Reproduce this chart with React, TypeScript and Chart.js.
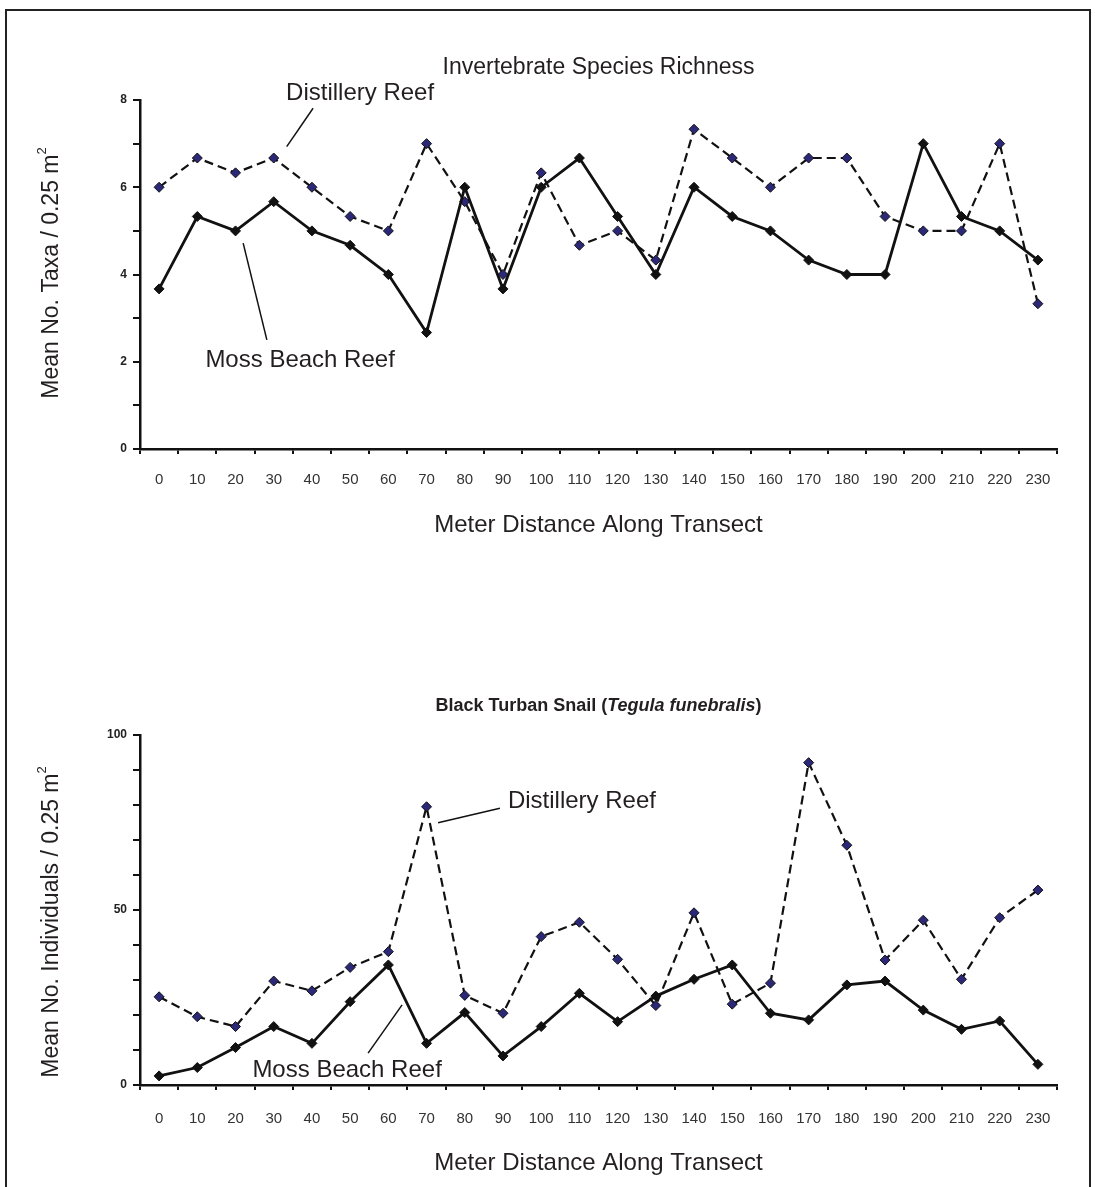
import React, { useEffect, useRef } from "react";
import { Chart, registerables } from "chart.js";

Chart.register(...registerables);

// ---------------- data ----------------
const distances = ["0", "10", "20", "30", "40", "50", "60", "70", "80", "90", "100", "110", "120", "130", "140", "150", "160", "170", "180", "190", "200", "210", "220", "230"];

const richnessDistillery = [6.0, 6.67, 6.33, 6.67, 6.0, 5.33, 5.0, 7.0, 5.67, 4.0, 6.33, 4.67, 5.0, 4.33, 7.33, 6.67, 6.0, 6.67, 6.67, 5.33, 5.0, 5.0, 7.0, 3.33];
const richnessMoss = [3.67, 5.33, 5.0, 5.67, 5.0, 4.67, 4.0, 2.67, 6.0, 3.67, 6.0, 6.67, 5.33, 4.0, 6.0, 5.33, 5.0, 4.33, 4.0, 4.0, 7.0, 5.33, 5.0, 4.33];

const snailDistillery = [25.2, 19.5, 16.7, 29.7, 26.9, 33.6, 38.1, 79.5, 25.6, 20.5, 42.4, 46.5, 35.9, 22.7, 49.2, 23.1, 29.1, 92.1, 68.5, 35.7, 47.1, 30.2, 47.8, 55.7];
const snailMoss = [2.6, 5.0, 10.7, 16.7, 11.9, 23.8, 34.3, 11.9, 20.7, 8.3, 16.7, 26.2, 18.1, 25.4, 30.2, 34.3, 20.5, 18.6, 28.6, 29.7, 21.4, 15.9, 18.3, 5.9];

const richnessTicks = [0, 2, 4, 6, 8];
const snailTicks = [0, 50, 100];

// ---------------- styles ----------------
const FONT = "'Liberation Sans', Arial, Helvetica, sans-serif";
const TEXT = "#231f20";
const LINE = "#111111";
const NAVY = "#2b2878";

type Run = { t: string; font: string; dy?: number };

function drawRuns(ctx: CanvasRenderingContext2D, runs: Run[], cx: number, cy: number, rot: number, align: "center" | "left" = "center") {
  ctx.save();
  ctx.translate(cx, cy);
  if (rot) ctx.rotate(rot);
  ctx.textBaseline = "middle";
  ctx.textAlign = "left";
  let total = 0;
  for (const r of runs) {
    ctx.font = r.font;
    total += ctx.measureText(r.t).width;
  }
  let x = align === "center" ? -total / 2 : 0;
  for (const r of runs) {
    ctx.font = r.font;
    ctx.fillText(r.t, x, r.dy || 0);
    x += ctx.measureText(r.t).width;
  }
  ctx.restore();
}

type Note = {
  text: string;
  at: [number, number]; // [category index, value]
  align: "center" | "left";
  from: [number, number];
  to: [number, number];
};

type Overlay = {
  title: Run[];
  titleY: number;
  xTitle: Run[];
  xTitleY: number;
  yTitle: Run[];
  yTitleX: number;
  yTitleY: number;
  notes: Note[];
};

function makeOverlay(cfg: Overlay) {
  return {
    id: "overlay",
    afterDraw(chart: any) {
      const { ctx, chartArea, scales } = chart;
      const xs = scales.x;
      const ys = scales.y;
      const cx = (chartArea.left + chartArea.right) / 2;
      ctx.save();
      ctx.fillStyle = TEXT;
      drawRuns(ctx, cfg.title, cx, cfg.titleY, 0);
      drawRuns(ctx, cfg.xTitle, cx, cfg.xTitleY, 0);
      drawRuns(ctx, cfg.yTitle, cfg.yTitleX, cfg.yTitleY, -Math.PI / 2);
      for (const n of cfg.notes) {
        ctx.strokeStyle = LINE;
        ctx.lineWidth = 1.5;
        ctx.beginPath();
        ctx.moveTo(xs.getPixelForValue(n.from[0]), ys.getPixelForValue(n.from[1]));
        ctx.lineTo(xs.getPixelForValue(n.to[0]), ys.getPixelForValue(n.to[1]));
        ctx.stroke();
        drawRuns(
          ctx,
          [{ t: n.text, font: `24px ${FONT}` }],
          xs.getPixelForValue(n.at[0]),
          ys.getPixelForValue(n.at[1]),
          0,
          n.align
        );
      }
      ctx.restore();
    },
  };
}

function buildConfig(
  distillery: number[],
  moss: number[],
  yMax: number,
  yStep: number,
  labelTicks: number[],
  padTop: number,
  xHeight: number,
  xLabelPad: number,
  overlay: Overlay
): any {
  return {
    type: "line",
    data: {
      labels: distances,
      datasets: [
        {
          label: "Moss Beach Reef",
          data: moss,
          borderColor: LINE,
          borderWidth: 2.8,
          pointStyle: "rectRot",
          pointRadius: 5,
          pointBackgroundColor: LINE,
          pointBorderColor: LINE,
          pointBorderWidth: 1,
          tension: 0,
          fill: false,
        },
        {
          label: "Distillery Reef",
          data: distillery,
          borderColor: LINE,
          borderWidth: 2.2,
          borderDash: [9, 5],
          pointStyle: "rectRot",
          pointRadius: 5,
          pointBackgroundColor: NAVY,
          pointBorderColor: LINE,
          pointBorderWidth: 1,
          tension: 0,
          fill: false,
        },
      ],
    },
    options: {
      responsive: false,
      animation: false,
      devicePixelRatio: 1,
      layout: { padding: { top: padTop, right: 38, left: 0, bottom: 0 } },
      plugins: {
        legend: { display: false },
        tooltip: { enabled: false },
        title: { display: false },
      },
      scales: {
        x: {
          type: "category",
          offset: true,
          afterFit: (s: any) => {
            s.height = xHeight;
          },
          grid: {
            offset: true,
            drawOnChartArea: false,
            drawTicks: true,
            tickLength: 5,
            color: LINE,
            lineWidth: 2,
          },
          border: { display: true, color: LINE, width: 2.5 },
          ticks: {
            autoSkip: false,
            maxRotation: 0,
            minRotation: 0,
            padding: xLabelPad,
            color: "#333333",
            font: { family: FONT, size: 15 },
          },
        },
        y: {
          min: 0,
          max: yMax,
          afterFit: (s: any) => {
            s.width = 140;
          },
          grid: {
            drawOnChartArea: false,
            drawTicks: true,
            tickLength: 7,
            color: LINE,
            lineWidth: 2,
          },
          border: { display: true, color: LINE, width: 2.5 },
          ticks: {
            stepSize: yStep,
            padding: 6,
            color: "#222222",
            font: { family: FONT, size: 12, weight: "bold" },
            callback: (v: any) => (labelTicks.includes(Number(v)) ? String(v) : ""),
          },
        },
      },
    },
    plugins: [makeOverlay(overlay)],
  };
}

function ChartCanvas({ config, width, height, top }: { config: any; width: number; height: number; top: number }) {
  const ref = useRef<HTMLCanvasElement | null>(null);
  useEffect(() => {
    if (!ref.current) return;
    const chart = new Chart(ref.current, config);
    return () => chart.destroy();
  }, [config]);
  return (
    <canvas
      ref={ref}
      width={width}
      height={height}
      style={{ position: "absolute", left: 0, top, width, height, display: "block" }}
    />
  );
}

const topConfig = buildConfig(
  richnessDistillery,
  richnessMoss,
  8,
  1,
  richnessTicks,
  100,
  600 - 449,
  17,
  {
    title: [{ t: "Invertebrate Species Richness", font: `23px ${FONT}` }],
    titleY: 68,
    xTitle: [{ t: "Meter Distance Along Transect", font: `24px ${FONT}` }],
    xTitleY: 525,
    yTitle: [
      { t: "Mean No. Taxa / 0.25 m", font: `23px ${FONT}` },
      { t: "2", font: `13px ${FONT}`, dy: -10 },
    ],
    yTitleX: 52,
    yTitleY: 273,
    notes: [
      { text: "Distillery Reef", at: [5.26, 8.16], align: "center", from: [3.34, 6.93], to: [4.03, 7.81] },
      { text: "Moss Beach Reef", at: [3.69, 2.04], align: "center", from: [2.2, 4.72], to: [2.82, 2.5] },
    ],
  }
);

const bottomConfig = buildConfig(
  snailDistillery,
  snailMoss,
  100,
  10,
  snailTicks,
  135,
  587 - 485,
  20,
  {
    title: [
      { t: "Black Turban Snail (", font: `bold 18px ${FONT}` },
      { t: "Tegula funebralis", font: `italic bold 18px ${FONT}` },
      { t: ")", font: `bold 18px ${FONT}` },
    ],
    titleY: 106,
    xTitle: [{ t: "Meter Distance Along Transect", font: `24px ${FONT}` }],
    xTitleY: 563,
    yTitle: [
      { t: "Mean No. Individuals / 0.25 m", font: `23px ${FONT}` },
      { t: "2", font: `13px ${FONT}`, dy: -10 },
    ],
    yTitleX: 52,
    yTitleY: 322,
    notes: [
      { text: "Distillery Reef", at: [9.13, 80.9], align: "left", from: [7.3, 74.9], to: [8.92, 79.1] },
      { text: "Moss Beach Reef", at: [4.92, 4.3], align: "center", from: [5.47, 9.1], to: [6.36, 22.9] },
    ],
  }
);

export default function App() {
  return (
    <div
      style={{
        position: "absolute",
        left: 0,
        top: 0,
        width: 1095,
        height: 1187,
        overflow: "hidden",
        background: "#ffffff",
      }}
    >
      <div
        style={{
          position: "absolute",
          left: 5,
          top: 9,
          width: 1086,
          height: 1200,
          border: "2px solid #222222",
          boxSizing: "border-box",
        }}
      />
      <ChartCanvas config={topConfig} width={1095} height={600} top={0} />
      <ChartCanvas config={bottomConfig} width={1095} height={587} top={600} />
    </div>
  );
}
